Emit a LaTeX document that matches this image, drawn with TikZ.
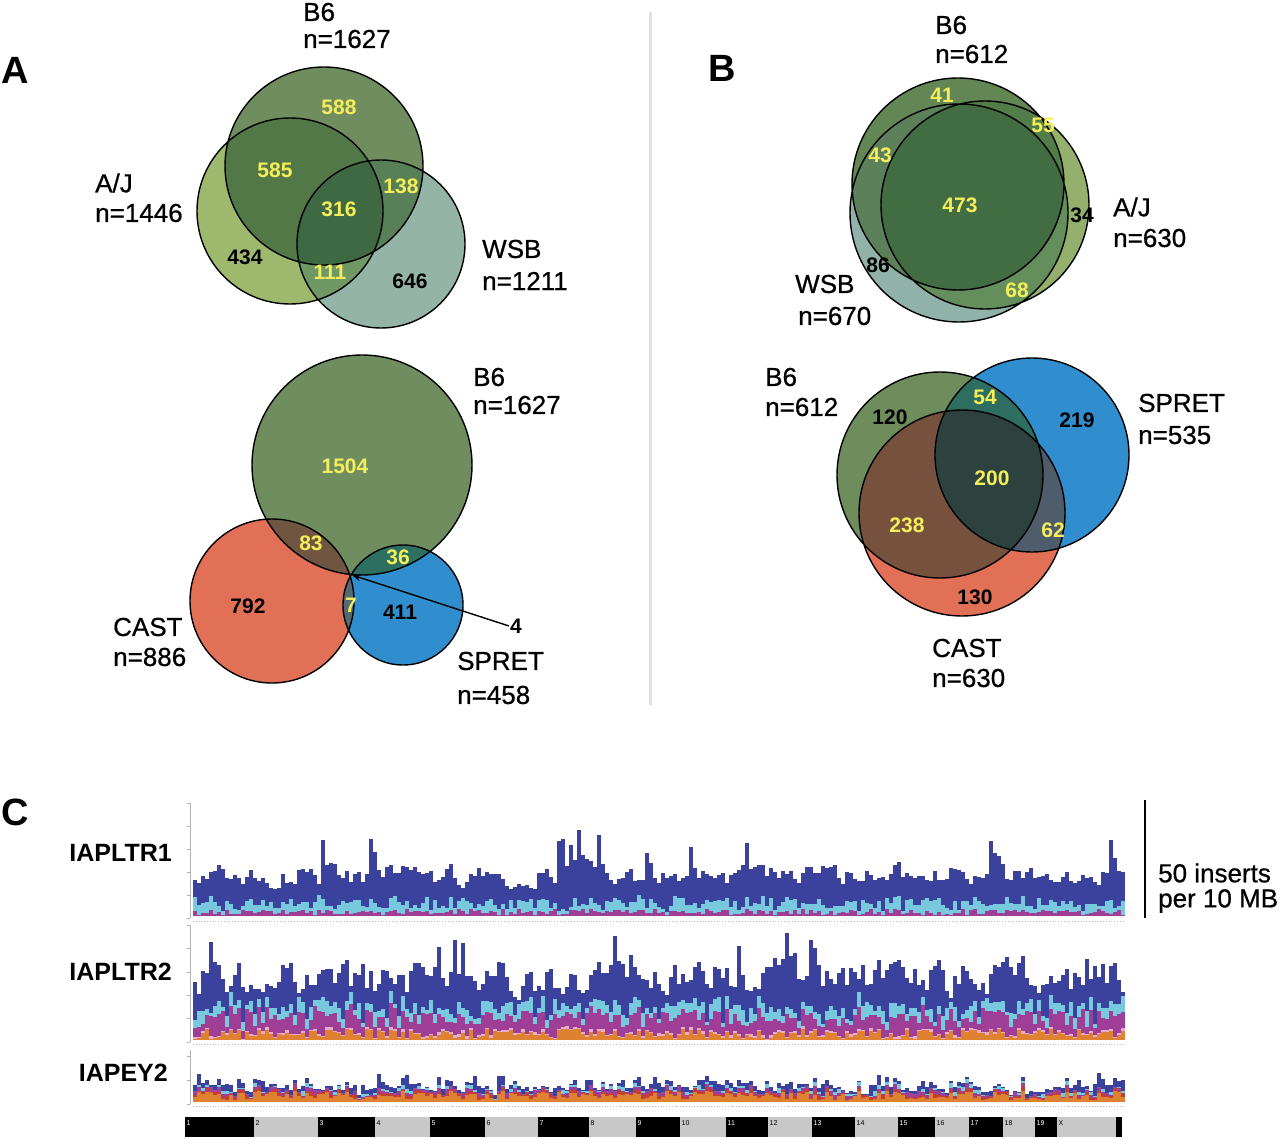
\documentclass[tikz,border=0pt]{standalone}
\usepackage{fontspec}
\setmainfont{Liberation Sans}
\newfontfamily\labfont{Liberation Sans}[FakeBold=0.7]
\usetikzlibrary{arrows.meta}
% panel A top
\definecolor{aJ}{RGB}{158,185,110}
\definecolor{aB}{RGB}{112,141,96}
\definecolor{aW}{RGB}{148,180,168}
\definecolor{aJB}{RGB}{82,120,72}
\definecolor{aBW}{RGB}{88,128,88}
\definecolor{aJW}{RGB}{112,152,100}
\definecolor{aJBW}{RGB}{63,105,66}
% panel A bottom
\definecolor{bB}{RGB}{112,141,96}
\definecolor{bC}{RGB}{226,112,86}
\definecolor{bS}{RGB}{48,142,206}
\definecolor{bBC}{RGB}{112,86,64}
\definecolor{bBS}{RGB}{45,112,98}
\definecolor{bCS}{RGB}{85,105,115}
\definecolor{bBCS}{RGB}{40,60,55}
% panel B top
\definecolor{cB}{RGB}{98,134,84}
\definecolor{cJ}{RGB}{148,176,108}
\definecolor{cW}{RGB}{145,178,168}
\definecolor{cBJ}{RGB}{82,124,72}
\definecolor{cBW}{RGB}{92,128,90}
\definecolor{cJW}{RGB}{100,142,92}
\definecolor{cBJW}{RGB}{66,108,66}
% panel B bottom
\definecolor{dB}{RGB}{110,140,92}
\definecolor{dC}{RGB}{226,112,86}
\definecolor{dS}{RGB}{48,142,206}
\definecolor{dBC}{RGB}{118,82,62}
\definecolor{dBS}{RGB}{45,110,96}
\definecolor{dCS}{RGB}{78,92,108}
\definecolor{dBCS}{RGB}{45,65,62}
% misc
\definecolor{vyel}{RGB}{245,238,90}
\definecolor{divgray}{RGB}{225,225,225}
\definecolor{brBlue}{RGB}{58,66,158}
\definecolor{brCyan}{RGB}{120,200,222}
\definecolor{brMag}{RGB}{158,62,150}
\definecolor{brPink}{RGB}{232,172,200}
\definecolor{brOrange}{RGB}{222,130,50}
\definecolor{brRed}{RGB}{196,62,52}
\definecolor{chrgray}{RGB}{200,200,200}
\begin{document}
\begin{tikzpicture}[x=1pt,y=-1pt,
  lab/.style={font=\labfont\fontsize{26}{28}\selectfont, anchor=west, inner sep=0pt},
  num/.style={font=\fontsize{21}{22}\selectfont\bfseries, inner sep=0pt},
  ynum/.style={num, text=vyel},
  knum/.style={num, text=black},
  panel/.style={font=\fontsize{38}{40}\selectfont\bfseries, inner sep=0pt},
  trk/.style={font=\fontsize{25}{27}\selectfont\bfseries, anchor=east, inner sep=0pt},
  vline/.style={draw=black, line width=1.4pt},
  axisline/.style={draw=gray!60, line width=0.6pt},
  chrlab/.style={font=\fontsize{7}{7}\selectfont, anchor=north west, inner sep=1.5pt}
]
\useasboundingbox[fill=white] (0,0) rectangle (1280,1139);

% divider
\draw[divgray, line width=3pt] (650,12) -- (650,705);

% panel letters
\node[panel] (pA) at (15,70) {A};
\node[panel] (pB) at (722,68) {B};
\node[panel] (pC) at (15,812) {C};

%================ Panel A top ================
\coordinate (aBc) at (324,166);
\coordinate (aJc) at (290,211);
\coordinate (aWc) at (381,244);
\fill[aJ] (aJc) circle (93pt);
\fill[aB] (aBc) circle (99pt);
\fill[aW] (aWc) circle (84pt);
\begin{scope}\clip (aJc) circle (93pt); \fill[aJB] (aBc) circle (99pt);\end{scope}
\begin{scope}\clip (aJc) circle (93pt); \fill[aJW] (aWc) circle (84pt);\end{scope}
\begin{scope}\clip (aBc) circle (99pt); \fill[aBW] (aWc) circle (84pt);\end{scope}
\begin{scope}\clip (aJc) circle (93pt); \clip (aBc) circle (99pt); \fill[aJBW] (aWc) circle (84pt);\end{scope}
\draw[vline] (aJc) circle (93pt) (aBc) circle (99pt) (aWc) circle (84pt);
\node[ynum] (a588) at (339,107) {588};
\node[ynum] (a585) at (275,170) {585};
\node[ynum] (a316) at (339,209) {316};
\node[ynum] (a138) at (401,186) {138};
\node[knum] (a434) at (245,257) {434};
\node[ynum] (a111) at (330,272) {111};
\node[knum] (a646) at (410,281) {646};
\node[lab] (aB6) at (303,12) {B6};
\node[lab] (aB6n) at (303,39) {n=1627};
\node[lab] (aAJ) at (95,183) {A/J};
\node[lab] (aAJn) at (95,213) {n=1446};
\node[lab] (aWSB) at (482,249) {WSB};
\node[lab] (aWSBn) at (482,281) {n=1211};

%================ Panel A bottom ================
\coordinate (bBc) at (362,465);
\coordinate (bCc) at (272,601);
\coordinate (bSc) at (403,605);
\fill[bB] (bBc) circle (110pt);
\fill[bC] (bCc) circle (82pt);
\fill[bS] (bSc) circle (60pt);
\begin{scope}\clip (bBc) circle (110pt); \fill[bBC] (bCc) circle (82pt);\end{scope}
\begin{scope}\clip (bBc) circle (110pt); \fill[bBS] (bSc) circle (60pt);\end{scope}
\begin{scope}\clip (bCc) circle (82pt); \fill[bCS] (bSc) circle (60pt);\end{scope}
\begin{scope}\clip (bBc) circle (110pt); \clip (bCc) circle (82pt); \fill[bBCS] (bSc) circle (60pt);\end{scope}
\draw[vline] (bBc) circle (110pt) (bCc) circle (82pt) (bSc) circle (60pt);
\node[ynum] (b1504) at (345,466) {1504};
\node[ynum] (b83) at (311,543) {83};
\node[ynum] (b36) at (398,557) {36};
\node[ynum] (b7) at (351,605) {7};
\node[knum] (b792) at (248,606) {792};
\node[knum] (b411) at (400,612) {411};
\node[font=\fontsize{21}{22}\selectfont\bfseries, inner sep=1pt, anchor=west] (b4) at (509,626) {4};
\coordinate (bTip) at (352,575);
\draw[line width=1.4pt, -{Stealth[length=9pt,width=7pt]}] (b4.west) -- (bTip);
\node[lab] (bB6) at (473,377) {B6};
\node[lab] (bB6n) at (473,405) {n=1627};
\node[lab] (bCAST) at (113,627) {CAST};
\node[lab] (bCASTn) at (113,657) {n=886};
\node[lab] (bSPRET) at (457,661) {SPRET};
\node[lab] (bSPRETn) at (457,695) {n=458};

%================ Panel B top ================
\coordinate (cBc) at (958,184);
\coordinate (cJc) at (985,205);
\coordinate (cWc) at (959,213);
\fill[cJ] (cJc) circle (104pt);
\fill[cB] (cBc) circle (106pt);
\fill[cW] (cWc) circle (109pt);
\begin{scope}\clip (cBc) circle (106pt); \fill[cBJ] (cJc) circle (104pt);\end{scope}
\begin{scope}\clip (cBc) circle (106pt); \fill[cBW] (cWc) circle (109pt);\end{scope}
\begin{scope}\clip (cJc) circle (104pt); \fill[cJW] (cWc) circle (109pt);\end{scope}
\begin{scope}\clip (cBc) circle (106pt); \clip (cJc) circle (104pt); \fill[cBJW] (cWc) circle (109pt);\end{scope}
\draw[vline] (cJc) circle (104pt) (cBc) circle (106pt) (cWc) circle (109pt);
\node[ynum] (c41) at (942,95) {41};
\node[ynum] (c55) at (1043,125) {55};
\node[ynum] (c43) at (880,155) {43};
\node[ynum] (c473) at (960,205) {473};
\node[knum] (c34) at (1082,215) {34};
\node[knum] (c86) at (878,265) {86};
\node[ynum] (c68) at (1017,290) {68};
\node[lab] (cB6) at (935,25) {B6};
\node[lab] (cB6n) at (935,54) {n=612};
\node[lab] (cAJ) at (1113,207) {A/J};
\node[lab] (cAJn) at (1113,238) {n=630};
\node[lab] (cWSB) at (795,284) {WSB};
\node[lab] (cWSBn) at (798,316) {n=670};

%================ Panel B bottom ================
\coordinate (dBc) at (940,475);
\coordinate (dCc) at (962,513);
\coordinate (dSc) at (1032,455);
\fill[dB] (dBc) circle (103pt);
\fill[dS] (dSc) circle (97pt);
\fill[dC] (dCc) circle (103pt);
\begin{scope}\clip (dBc) circle (103pt); \fill[dBC] (dCc) circle (103pt);\end{scope}
\begin{scope}\clip (dBc) circle (103pt); \fill[dBS] (dSc) circle (97pt);\end{scope}
\begin{scope}\clip (dCc) circle (103pt); \fill[dCS] (dSc) circle (97pt);\end{scope}
\begin{scope}\clip (dBc) circle (103pt); \clip (dCc) circle (103pt); \fill[dBCS] (dSc) circle (97pt);\end{scope}
\draw[vline] (dBc) circle (103pt) (dCc) circle (103pt) (dSc) circle (97pt);
\node[ynum] (d54) at (985,397) {54};
\node[knum] (d120) at (890,417) {120};
\node[knum] (d219) at (1077,420) {219};
\node[ynum] (d200) at (992,478) {200};
\node[ynum] (d238) at (907,525) {238};
\node[ynum] (d62) at (1053,530) {62};
\node[knum] (d130) at (975,597) {130};
\node[lab] (dB6) at (765,377) {B6};
\node[lab] (dB6n) at (765,407) {n=612};
\node[lab] (dSPRET) at (1138,403) {SPRET};
\node[lab] (dSPRETn) at (1138,435) {n=535};
\node[lab] (dCAST) at (932,648) {CAST};
\node[lab] (dCASTn) at (932,678) {n=630};

%================ Panel C ================
\node[trk] (tr1) at (172,853) {IAPLTR1};
\node[trk] (tr2) at (172,972) {IAPLTR2};
\node[trk] (tr3) at (168,1073) {IAPEY2};

% axes
\draw[axisline] (190,803) -- (190,918);
\foreach \t in {0,...,5} \draw[axisline] (187,918-23*\t) -- (190,918-23*\t);
\draw[axisline] (190,925) -- (190,1042);
\foreach \t in {0,...,5} \draw[axisline] (187,1042-23.4*\t) -- (190,1042-23.4*\t);
\draw[axisline] (190,1050) -- (190,1104);
\foreach \t in {0,...,2} \draw[axisline] (187,1104-24*\t) -- (190,1104-24*\t);

\pgfmathsetseed{11}
% track 1
\gdef\lastT{35}
\foreach \i in {0,...,232}{
  \pgfmathsetmacro\qx{193+4*\i}
  \pgfmathsetmacro\qm{1+6*rnd}
  \pgfmathsetmacro\qc{3+12*rnd}
  \pgfmathsetmacro\qt{0.45*\lastT+0.55*(24+34*rnd)+30*(rnd>0.95)}
  \global\let\lastT\qt
  \pgfmathsetmacro\qa{916-\qm}
  \pgfmathsetmacro\qb{\qa-\qc}
  \pgfmathsetmacro\qd{min(\qb-3,916-\qt)}
  \fill[brMag] (\qx,916) rectangle (\qx+3.7,\qa);
  \fill[brCyan] (\qx,\qa) rectangle (\qx+3.7,\qb);
  \fill[brBlue] (\qx,\qb) rectangle (\qx+3.7,\qd);
}
\draw[gray!50, dotted, line width=0.8pt] (193,921) -- (1125,921);
% track 2
\gdef\lastT{55}
\foreach \i in {0,...,232}{
  \pgfmathsetmacro\qx{193+4*\i}
  \pgfmathsetmacro\qo{1+10*rnd}
  \pgfmathsetmacro\qp{3*rnd}
  \pgfmathsetmacro\qm{6+18*rnd}
  \pgfmathsetmacro\qc{3+13*rnd}
  \pgfmathsetmacro\qt{0.45*\lastT+0.55*(32+58*rnd)+22*(rnd>0.93)}
  \global\let\lastT\qt
  \pgfmathsetmacro\qa{1040-\qo}
  \pgfmathsetmacro\qe{\qa-\qp}
  \pgfmathsetmacro\qf{\qe-\qm}
  \pgfmathsetmacro\qb{\qf-\qc}
  \pgfmathsetmacro\qd{max(933,min(\qb-4,1040-\qt))}
  \fill[brOrange] (\qx,1040) rectangle (\qx+3.7,\qa);
  \fill[brPink] (\qx,\qa) rectangle (\qx+3.7,\qe);
  \fill[brMag] (\qx,\qe) rectangle (\qx+3.7,\qf);
  \fill[brCyan] (\qx,\qf) rectangle (\qx+3.7,\qb);
  \fill[brBlue] (\qx,\qb) rectangle (\qx+3.7,\qd);
}
\draw[gray!50, dotted, line width=0.8pt] (193,1044) -- (1125,1044);
% track 3
\gdef\lastT{4}
\foreach \i in {0,...,232}{
  \pgfmathsetmacro\qx{193+4*\i}
  \pgfmathsetmacro\qo{2+9*rnd}
  \pgfmathsetmacro\qr{4*rnd}
  \pgfmathsetmacro\qm{5*rnd}
  \pgfmathsetmacro\qc{5*rnd*(rnd>0.4)}
  \pgfmathsetmacro\qt{0.5*\lastT+0.5*(8*rnd*(rnd>0.3)+20*(rnd>0.85)*rnd)}
  \global\let\lastT\qt
  \pgfmathsetmacro\qa{1102-\qo}
  \pgfmathsetmacro\qe{\qa-\qr}
  \pgfmathsetmacro\qf{\qe-\qm}
  \pgfmathsetmacro\qb{\qf-\qc}
  \pgfmathsetmacro\qd{max(1062,\qb-\qt)}
  \fill[brOrange] (\qx,1102) rectangle (\qx+3.7,\qa);
  \fill[brRed] (\qx,\qa) rectangle (\qx+3.7,\qe);
  \fill[brMag] (\qx,\qe) rectangle (\qx+3.7,\qf);
  \fill[brCyan] (\qx,\qf) rectangle (\qx+3.7,\qb);
  \fill[brBlue] (\qx,\qb) rectangle (\qx+3.7,\qd);
}
\draw[gray!50, dotted, line width=0.8pt] (193,1106) -- (1125,1106);

% chromosome bar
\foreach \a/\b/\n/\fc/\tc in {185/254/1/black/white, 254/318/2/chrgray/black, 318/375/3/black/white, 375/430/4/chrgray/black, 430/485/5/black/white, 485/538/6/chrgray/black, 538/589/7/black/white, 589/636/8/chrgray/black, 636/680/9/black/white, 680/726/10/chrgray/black, 726/768/11/black/white, 768/812/12/chrgray/black, 812/855/13/black/white, 855/898/14/chrgray/black, 898/935/15/black/white, 935/969/16/chrgray/black, 969/1003/17/black/white, 1003/1035/18/chrgray/black, 1035/1057/19/black/white, 1057/1116/X/chrgray/black}{
  \fill[\fc] (\a,1117) rectangle (\b,1137);
  \node[chrlab, text=\tc] (chr\n) at (\a,1119) {\n};
}
\fill[black] (1116,1117) rectangle (1122,1137);

% scale bar
\coordinate (sTop) at (1145,800);
\coordinate (sBot) at (1145,918);
\draw[line width=1.4pt] (sTop) -- (sBot);
\node[lab] (s1) at (1158,873) {50 inserts};
\node[lab] (s2) at (1158,901) {per 10 MB};
\end{tikzpicture}
\end{document}
